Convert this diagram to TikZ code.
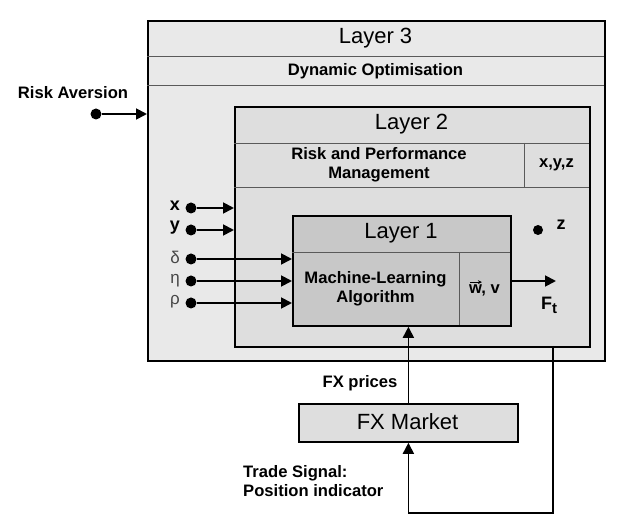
\documentclass[tikz,border=0pt]{standalone}
\usepackage{fontspec}
\setmainfont{Liberation Sans}
\usetikzlibrary{arrows.meta,calc}
\definecolor{lthree}{RGB}{233,233,233}
\definecolor{ltwo}{RGB}{222,222,222}
\definecolor{lone}{RGB}{200,200,200}
\definecolor{fxc}{RGB}{222,222,222}
\definecolor{divc}{RGB}{90,90,90}
\definecolor{greekc}{RGB}{70,70,70}
\tikzset{
  layerbox/.style={draw=black, line width=1.8pt, rectangle, inner sep=0pt, anchor=north west},
  divline/.style={draw=divc, line width=0.9pt},
  arr/.style={-{Triangle[length=11pt,width=11pt]}, line width=1.8pt},
  dotnode/.style={circle, fill=black, inner sep=0pt, minimum size=11pt},
  titletext/.style={font=\fontsize{22}{24}\selectfont, inner sep=0pt},
  boldtext/.style={font=\fontsize{16.6}{19}\selectfont\bfseries, inner sep=0pt, align=center},
  greektext/.style={font=\fontsize{17}{18}\selectfont, text=greekc, inner sep=0pt},
  vartext/.style={font=\fontsize{18}{18}\selectfont\bfseries, inner sep=0pt},
}
\begin{document}
\begin{tikzpicture}[x=1pt,y=-1pt]
\useasboundingbox (0,0) rectangle (625,524);
% Layer 3
\node[layerbox, fill=lthree, minimum width=457pt, minimum height=340pt] (L3) at (147,20) {};
\draw[divline] (147,56) -- (604,56);
\draw[divline] (147,85) -- (604,85);
\node[titletext] (t3) at (375.5,38) {Layer 3};
\node[boldtext] (dyn) at (375.5,71) {Dynamic Optimisation};
% Layer 2
\node[layerbox, fill=ltwo, minimum width=355pt, minimum height=240pt] (L2) at (234,106) {};
\draw[divline] (234,143) -- (589,143);
\draw[divline] (234,187) -- (589,187);
\draw[divline] (524,143) -- (524,187);
\node[titletext] (t2) at (411.5,124.5) {Layer 2};
\node[boldtext] (rpm) at (379,165) {Risk and Performance\\Management};
\node[boldtext] (xyz) at (556.5,165) {x,y,z};
% Layer 1
\node[layerbox, fill=lone, minimum width=218pt, minimum height=110pt] (L1) at (292,215) {};
\draw[divline] (292,252) -- (510,252);
\draw[divline] (459,252) -- (459,325);
\node[titletext] (t1) at (401,233.5) {Layer 1};
\node[boldtext] (ml) at (375.5,289) {Machine-Learning\\Algorithm};
\node[boldtext] (wv) at (484.5,290) {w, v};
\draw[-{Stealth[length=4pt,width=4pt]}, line width=0.9pt] ($(wv.north west)+(1,-2)$) -- ++(12,0);
% FX market
\node[layerbox, fill=fxc, minimum width=219pt, minimum height=38pt] (fx) at (298,403) {};
\node[titletext] (fxt) at (407.5,422) {FX Market};
% Risk aversion
\node[boldtext] (ralab) at (73,93) {Risk Aversion};
\node[dotnode] (ra) at (96,114) {};
\draw[arr] (ra) -- (ra -| L3.west);
% inputs to layer 2
\node[dotnode] (dx) at (191,208) {};
\node[dotnode] (dy) at (191,230) {};
\node[vartext] (lx) at (175,206) {x};
\node[vartext] (ly) at (175,228) {y};
\draw[arr] (dx) -- (dx -| L2.west);
\draw[arr] (dy) -- (dy -| L2.west);
% inputs to layer 1
\node[dotnode] (dd) at (191,259) {};
\node[dotnode] (de) at (191,281) {};
\node[dotnode] (dr) at (191,303) {};
\node[greektext] (ld) at (175,257) {δ};
\node[greektext] (le) at (175,281) {η};
\node[greektext] (lr) at (175,302) {ρ};
\draw[arr] (dd) -- (dd -| L1.west);
\draw[arr] (de) -- (de -| L1.west);
\draw[arr] (dr) -- (dr -| L1.west);
% output
\coordinate (ft) at (556,281);
\draw[arr] (L1.east |- ft) -- (ft);
\node[vartext] (ftl) at (549,305) {F\raisebox{-4pt}{\fontsize{15}{15}\selectfont t}};
\node[dotnode, minimum size=10pt] (dz) at (538,230) {};
\node[vartext] (lz) at (561,225) {z};
% FX prices
\draw[arr] (fx.north) -- (fx.north |- L1.south);
\node[boldtext] (fxp) at (360,383) {FX prices};
% feedback
\coordinate (fbtop) at (553,346);
\draw[arr] (fbtop) -- ++(0,167) -| (fx.south);
\node[boldtext, align=left, anchor=west] (ts) at (243,481) {Trade Signal:\\Position indicator};
\end{tikzpicture}
\end{document}
